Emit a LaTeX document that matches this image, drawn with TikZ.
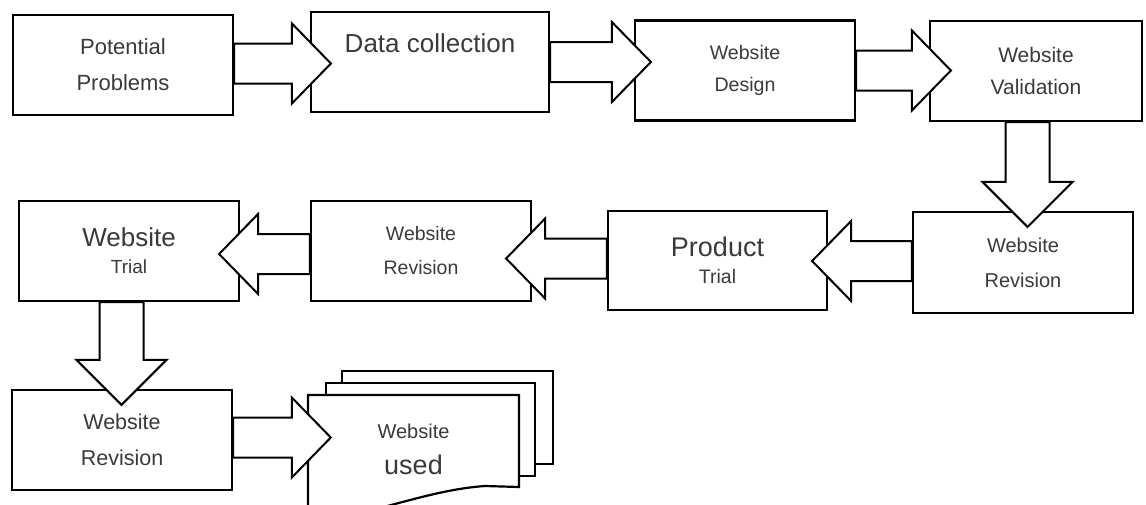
\documentclass[tikz,border=0pt]{standalone}
\usepackage{fontspec}
\setmainfont{Liberation Sans}
\usetikzlibrary{calc}
\definecolor{labelgray}{HTML}{3A3A3A}
\newcommand{\bashaft}{20pt}
\newcommand{\bahead}{40pt}
\newcommand{\balen}{39pt}
\newcommand{\blockarrow}[2]{%
  \coordinate (#1base) at ($(#2)!\balen!(#1)$);
  \draw [arrowbody] ($(#1)!\bashaft!90:(#2)$) -- ($(#1base)!\bashaft!90:(#2)$)
    -- ($(#1base)!\bahead!90:(#2)$) -- (#2) -- ($(#1base)!\bahead!-90:(#2)$)
    -- ($(#1base)!\bashaft!-90:(#2)$) -- ($(#1)!\bashaft!-90:(#2)$) -- cycle;}

\begin{document}
\begin{tikzpicture}
[every node/.style={inner sep=0pt},
 box/.style={draw=black, line width=2.2pt, minimum width=220pt, minimum height=100pt, align=center, text=labelgray},
 arrowbody/.style={draw=black, fill=white, line width=2pt, line join=miter},
 sheet/.style={draw=black, fill=white, line width=2.2pt}]
\path [use as bounding box, fill=white] (0pt,0pt) rectangle (1146pt,-504pt);
\node (pp) [box, font={\fontsize{22}{36}\selectfont}] at (123pt, -65pt) {Potential\\Problems};
\node (dc) [box, minimum width=238pt, text depth=38pt, font={\fontsize{26}{30}\selectfont}] at (430pt, -62pt) {Data collection};
\node (wd) [box, font={\fontsize{19.6}{32}\selectfont}] at (745pt, -70.5pt) {Website\\Design};
\node (wv) [box, minimum width=212pt, font={\fontsize{21}{32}\selectfont}] at (1036pt, -71pt) {Website\\Validation};
\node (wr1) [box, minimum height=101pt, font={\fontsize{20}{35}\selectfont}] at (1023pt, -262.5pt) {Website\\Revision};
\node (prod) [box, minimum width=219pt, minimum height=99pt, font={\fontsize{20}{27}\selectfont}] at (717.5pt, -260.5pt) {{\fontsize{27}{27}\selectfont Product}\\{\fontsize{19.5}{27}\selectfont Trial}};
\node (wr2) [box, font={\fontsize{19.5}{34}\selectfont}] at (421pt, -251pt) {Website\\Revision};
\node (wt) [box, font={\fontsize{20}{27}\selectfont}] at (129pt, -251pt) {{\fontsize{26}{27}\selectfont Website}\\{\fontsize{19}{27}\selectfont Trial}};
\node (wr3) [box, font={\fontsize{21.5}{36}\selectfont}] at (122pt, -440pt) {Website\\Revision};
\draw [sheet] (342pt, -371pt) rectangle (553pt, -464pt);
\draw [sheet] (326pt, -383pt) rectangle (535pt, -476pt);
\draw [sheet] (308pt, -395pt) -- (519pt, -395pt) -- (519pt, -487pt) -- (485pt, -486pt)
  .. controls (455pt, -488pt) and (425pt, -496pt) .. (395pt, -504pt)
  .. controls (365pt, -512pt) .. (308pt, -522pt) -- cycle;
\node (used) [minimum width=211pt, minimum height=109pt, align=center, text=labelgray, font={\fontsize{20}{36}\selectfont}] at (413.5pt, -449.5pt) {{\fontsize{20}{36}\selectfont Website}\\{\fontsize{27}{36}\selectfont used}};
\coordinate (a1t) at ([yshift=1.5pt]pp.east);
\coordinate (a1h) at ($(a1t -| dc.west)+(21pt,0)$);
\coordinate (a2t) at (dc.east);
\coordinate (a2h) at ($(a2t -| wd.west)+(17pt,0)$);
\coordinate (a3t) at (wd.east);
\coordinate (a3h) at ($(a3t -| wv.west)+(22pt,0)$);
\coordinate (a5t) at ([yshift=1.5pt]wr1.west);
\coordinate (a5h) at ($(a5t -| prod.east)+(-16pt,0)$);
\coordinate (a6t) at ([yshift=2pt]prod.west);
\coordinate (a6h) at ($(a6t -| wr2.east)+(-26pt,0)$);
\coordinate (a7t) at ([yshift=-3pt]wr2.west);
\coordinate (a7h) at ($(a7t -| wt.east)+(-21pt,0)$);
\coordinate (a9t) at ([yshift=2.5pt]wr3.east);
\coordinate (a9h) at ($(a9t -| used.west)+(23pt,0)$);
\coordinate (a4t) at ([xshift=-8.5pt]wv.south);
\coordinate (a4h) at ($(a4t |- wr1.north)+(0,-16pt)$);
\coordinate (a8t) at ([xshift=-7.5pt]wt.south);
\coordinate (a8h) at ($(a8t |- wr3.north)+(0,-16pt)$);
\blockarrow{a1t}{a1h}
\blockarrow{a2t}{a2h}
\blockarrow{a3t}{a3h}
\blockarrow{a5t}{a5h}
\blockarrow{a6t}{a6h}
\blockarrow{a7t}{a7h}
\blockarrow{a9t}{a9h}
\renewcommand{\bashaft}{22pt}
\renewcommand{\bahead}{45pt}
\renewcommand{\balen}{45pt}
\blockarrow{a4t}{a4h}
\blockarrow{a8t}{a8h}
\end{tikzpicture}
\end{document}
